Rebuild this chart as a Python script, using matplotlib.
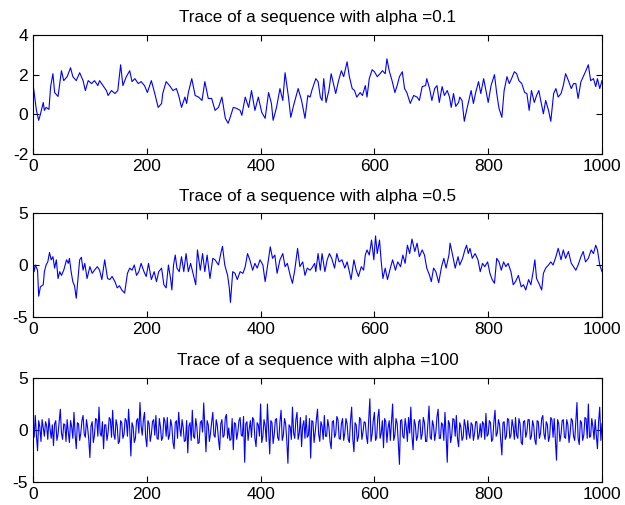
import matplotlib
matplotlib.use("Agg")
import matplotlib.pyplot as plt

plt.rcParams['font.family'] = ['Liberation Sans', 'DejaVu Sans']
plt.rcParams['axes.unicode_minus'] = False

titles = ['Trace of a sequence with alpha =0.1',
          'Trace of a sequence with alpha =0.5',
          'Trace of a sequence with alpha =100']

# alpha = 0.1
t1_x = [0, 3, 6, 10, 13, 18, 20, 23, 28, 31, 35, 38, 44, 50, 54, 60, 66, 70, 76, 82,
        88, 92, 97, 103, 108, 114, 117, 123, 129, 132, 138, 144, 149, 154, 158, 164, 170, 174, 179, 185,
        190, 196, 201, 208, 214, 220, 226, 228, 234, 240, 246, 252, 256, 261, 267, 270, 273, 279, 285, 291,
        297, 302, 308, 314, 320, 326, 332, 338, 343, 346, 352, 358, 364, 367, 373, 379, 384, 390, 396, 402,
        408, 414, 419, 422, 428, 434, 439, 443, 449, 453, 458, 462, 466, 472, 478, 483, 487, 490, 493, 497,
        501, 505, 508, 511, 515, 520, 524, 528, 532, 537, 542, 546, 552, 556, 561, 565, 569, 575, 579, 584,
        587, 591, 596, 600, 605, 610, 614, 619, 622, 626, 631, 636, 640, 644, 649, 653, 657, 663, 669, 675,
        679, 684, 690, 692, 697, 701, 706, 710, 714, 719, 723, 728, 732, 735, 739, 743, 748, 750, 754, 758,
        762, 766, 770, 774, 778, 783, 787, 792, 796, 800, 805, 811, 815, 819, 824, 828, 833, 837, 841, 846,
        850, 854, 859, 864, 868, 872, 876, 881, 885, 889, 893, 897, 901, 906, 910, 915, 919, 923, 928, 932,
        936, 941, 946, 950, 954, 958, 963, 967, 971, 976, 980, 985, 989, 992, 996, 1000]
t1_y = [1.55, 0.87, 0.2, -0.3, 0.0, 0.6, 0.2, 0.35, 0.25, 1.4, 2.05, 1.1, 0.9, 2.2, 1.7, 1.9, 2.35, 1.9, 1.7, 2.1,
        1.7, 1.2, 1.7, 1.55, 1.7, 1.45, 1.7, 1.45, 1.2, 0.95, 1.2, 1.05, 1.2, 2.5, 1.45, 1.9, 2.2, 1.65, 1.8, 1.55,
        1.65, 1.45, 1.1, 1.7, 1.05, 0.35, 0.55, 1.05, 1.65, 1.45, 1.2, 1.3, 0.95, 0.35, 0.87, 0.55, 1.1, 1.8, 0.95, 0.87,
        0.7, 1.65, 0.8, 0.8, 0.2, 0.35, 0.87, -0.2, -0.45, -0.2, 0.35, 0.3, 0.2, -0.05, 0.87, 0.35, 1.2, 0.2, 0.87, 0.1,
        -0.2, 1.1, 0.55, -0.3, 0.35, 1.3, 0.7, 2.1, 0.87, -0.15, 0.45, 0.87, 1.3, 0.7, -0.2, 0.95, 0.87, 1.2, 1.45, 1.8,
        1.65, 0.87, 0.7, 1.8, 0.6, 1.2, 2.05, 1.55, 1.05, 1.7, 2.2, 1.9, 2.65, 1.9, 1.3, 1.2, 0.87, 1.1, 0.95, 1.45,
        0.87, 1.8, 2.25, 2.15, 1.9, 2.05, 2.2, 2.05, 2.8, 2.2, 1.7, 1.1, 1.45, 1.9, 2.15, 1.3, 1.1, 0.55, 0.95, 0.87,
        0.7, 1.4, 1.45, 1.8, 1.3, 0.7, 1.3, 1.45, 0.6, 1.4, 0.95, 1.2, 0.87, 0.35, 1.05, 0.4, 0.6, 0.87, 0.7, -0.35,
        0.2, 0.7, 1.2, 0.55, 1.1, 1.65, 1.05, 1.8, 1.2, 0.6, 1.45, 2.0, 1.05, 0.3, -0.15, 1.2, 1.9, 1.55, 1.8, 2.15,
        2.05, 1.7, 1.55, 1.1, 1.05, 0.2, 1.2, 0.6, 0.95, 1.2, 0.6, 0.03, 0.7, 0.2, -0.35, 1.05, 1.3, 0.87, 1.05, 1.45,
        2.05, 1.7, 1.3, 1.55, 1.55, 0.8, 1.65, 1.9, 2.15, 2.5, 1.7, 1.8, 1.4, 1.8, 1.3, 1.7]

# alpha = 0.5
t2_x = [0, 2, 4, 8, 10, 13, 18, 20, 23, 26, 29, 32, 35, 38, 41, 44, 47, 50, 54, 59,
        62, 64, 67, 70, 73, 76, 79, 82, 85, 88, 91, 95, 100, 104, 108, 113, 117, 121, 126, 131,
        135, 139, 144, 148, 152, 156, 161, 166, 170, 174, 178, 182, 186, 190, 195, 199, 203, 208, 213, 217,
        221, 226, 230, 234, 238, 242, 244, 247, 250, 253, 257, 261, 265, 269, 273, 277, 282, 286, 289, 294,
        298, 302, 306, 311, 316, 320, 326, 330, 333, 337, 342, 345, 347, 351, 355, 359, 364, 369, 373, 377,
        381, 386, 390, 394, 399, 404, 408, 412, 417, 421, 425, 429, 434, 439, 443, 447, 452, 456, 460, 465,
        469, 474, 478, 482, 487, 490, 495, 497, 501, 505, 508, 513, 517, 521, 525, 530, 534, 538, 543, 548,
        552, 556, 559, 564, 568, 572, 577, 581, 584, 587, 591, 595, 599, 602, 605, 609, 612, 615, 619, 623,
        628, 632, 637, 641, 646, 650, 654, 658, 662, 666, 671, 675, 679, 684, 688, 692, 697, 700, 704, 708,
        713, 718, 722, 726, 731, 733, 738, 742, 747, 750, 755, 759, 762, 765, 768, 772, 777, 782, 786, 790,
        794, 799, 803, 807, 811, 815, 819, 823, 827, 831, 835, 840, 844, 848, 853, 858, 862, 866, 871, 875,
        879, 882, 885, 889, 894, 897, 901, 906, 910, 914, 919, 923, 928, 932, 936, 941, 946, 950, 954, 958,
        963, 967, 971, 976, 981, 985, 989, 992, 996, 1000]
t2_y = [0.16, -0.64, 0.0, -0.5, -3.0, -2.1, -1.9, -0.64, 0.0, 0.3, 1.2, 0.5, 0.8, -0.3, 0.5, -1.3, -0.64, -1.0, -0.5, 0.5,
        0.16, 0.64, -0.64, -1.6, -2.0, -3.2, -1.4, 0.5, 0.74, -0.5, 0.16, -1.3, -0.16, -0.8, -0.5, -0.16, -0.5, -1.4, 0.5, -1.3,
        -1.4, -1.1, -1.6, -2.2, -2.0, -2.4, -2.7, -0.8, -0.3, -0.5, 0.0, -1.0, -0.64, 0.16, -0.64, -1.1, 0.16, -1.4, -0.64, -1.6,
        -0.64, -0.3, -1.9, -2.2, 0.0, -1.4, -2.4, 0.0, 0.96, -0.3, -0.64, 0.8, -0.64, 1.1, -0.64, 0.16, -1.0, -1.9, 1.45, -0.5,
        1.1, -0.64, 0.96, -1.3, 0.64, 0.5, 0.0, 1.1, 1.8, 0.0, -1.0, -2.2, -3.6, -0.64, -0.8, -1.4, -0.64, -0.8, -0.16, 1.1,
        0.5, -0.5, 0.16, -0.3, 0.5, 0.0, -1.6, -0.16, 1.75, 0.64, 0.96, -0.8, 0.5, 1.1, -0.16, 0.16, -1.0, -1.76, -0.5, 1.6,
        -0.16, 0.3, -1.0, -0.3, -0.5, -0.3, 0.16, -0.64, 1.1, -0.5, 1.1, -0.64, 0.5, 1.1, 0.64, -0.3, 1.1, 0.3, 0.5, -0.3,
        0.3, -0.64, -1.4, 0.5, -0.5, -1.1, -0.16, -0.5, 0.96, 1.45, 0.96, 2.4, 0.5, 2.8, 1.1, 2.4, 0.3, -1.3, -0.3, -1.4,
        -0.3, 0.5, -0.5, 0.3, -0.16, 0.96, 0.16, 1.9, 1.1, 2.5, 1.3, 2.1, 0.8, 1.45, 0.96, -0.3, -1.0, -1.6, -0.3, -0.64,
        -1.7, -0.16, 0.64, -0.3, 0.96, 2.1, 0.8, -0.3, 0.8, 0.0, 0.64, 1.45, 1.9, 1.1, 1.6, 0.64, 1.1, 0.5, -0.64, 0.16,
        -0.16, 0.3, -0.8, -1.4, -1.76, 0.64, 0.3, -0.5, 0.3, -0.16, 0.16, -0.64, -1.9, -1.6, -1.0, -2.1, -1.9, -2.4, -1.4, -1.9,
        -0.64, 0.5, -1.3, -1.76, -2.4, -0.8, -0.3, 0.0, 0.3, 0.0, 0.8, 1.6, 0.5, 1.45, 0.64, 1.3, 0.16, -0.16, -0.5, 0.0,
        0.8, 1.3, 0.3, 0.64, 1.45, 1.1, 1.9, 1.45, 0.0, -0.64]

# alpha = 100: values at x = 0, 4, 8, ... and the ones in between at x = 2, 6, 10, ...
t3_even = [0.2, 1.4, -2.0, 0.3, 1.0, -0.6, 0.4, 1.1, -0.8, -1.5,
           0.9, -0.4, 2.0, -0.9, 0.5, 1.0, -1.2, 0.3, 1.7, -1.8,
           0.6, -0.3, 1.4, -0.7, 0.2, -2.65, 0.8, -0.5, 1.0, 2.2,
           -0.6, -1.8, 0.5, -0.2, 1.0, 1.9, -0.9, 0.4, -1.1, 0.7,
           -0.4, 0.9, 2.0, -2.5, 0.3, -0.8, 1.1, 2.65, -0.5, 1.7,
           -1.6, 0.6, -0.4, 1.0, 1.4, -0.9, 0.3, -0.7, 0.8, 1.2,
           -0.5, 0.4, -1.8, 0.9, 1.7, -0.6, 0.2, -1.0, -2.2, 0.7,
           1.9, -0.8, 0.3, -1.2, 0.9, 2.6, -2.1, 0.5, -0.3, 1.7,
           -0.7, 0.4, -1.9, 1.0, -0.5, 1.5, 0.2, -0.9, -1.9, 0.6,
           -0.2, 1.2, -0.6, -3.1, 0.8, 0.1, -0.7, 1.0, -1.6, 0.5,
           2.5, -0.6, 0.4, 2.5, -2.3, 0.7, -0.4, 1.1, -1.0, 1.9,
           -0.5, 0.6, -3.2, 0.3, 2.2, -0.8, 1.7, -0.3, -1.6, 0.9,
           1.4, -0.5, -2.7, 0.8, -0.2, 2.0, -1.1, 0.4, 1.4, -0.6,
           0.3, -1.8, 0.9, -0.4, 1.0, -0.9, 1.1, -0.3, 0.6, -1.2,
           2.2, -2.1, 0.5, -0.6, 1.0, -0.2, 0.7, -1.3, 3.0, -0.4,
           1.7, -0.7, 2.0, -0.3, -1.7, 0.8, 0.2, -1.0, 2.5, -0.5,
           0.6, -3.3, 1.0, -0.8, 0.3, 1.2, 2.2, -1.9, 0.5, -0.6,
           1.0, -0.4, 0.7, -1.1, 2.3, -0.9, 0.4, -0.2, 2.0, -0.8,
           0.5, 1.7, -3.1, 0.6, -0.5, 1.0, 1.4, -1.6, 0.3, -0.7,
           0.4, 0.9, -0.8, 0.5, -0.3, 0.8, -0.5, -0.7, 0.6, 1.6,
           -0.4, 0.7, -0.9, 1.9, -0.3, 0.5, -2.4, 0.8, -0.6, 1.0,
           -0.5, 0.3, 1.2, -0.8, 0.6, -1.4, 0.9, -0.2, 1.0, -0.6,
           0.4, -1.4, 0.8, -0.3, 1.4, -0.9, 0.5, -0.6, 1.0, 1.1,
           -2.9, 0.6, -0.4, 1.0, -0.8, 0.5, -0.3, 0.9, -1.0, 2.65,
           -1.4, 0.7, -0.5, 1.1, 2.5, -0.6, 0.3, 1.0, -1.8, 2.2,
           0.6]
t3_odd = [-0.7, -0.5, 0.9, -1.1, 0.2, 0.8, -0.9, 0.1, 0.5, 0.6,
          -1.0, 0.8, -0.3, 0.6, -1.1, -0.2, 0.9, -0.8, -0.4, 0.7,
          -1.0, 0.9, -0.4, 1.0, -0.9, 0.4, -1.2, 1.1, -0.6, -0.3,
          0.8, 0.5, -1.0, 1.2, -0.7, -0.4, 1.0, -1.3, 0.9, -0.8,
          1.1, -0.6, 0.1, 0.7, -1.2, 0.9, -0.3, 0.4, 1.0, -0.7,
          0.9, -1.1, 0.8, -0.5, -0.8, 1.1, -1.0, 1.2, -0.6, -0.9,
          1.0, -1.2, 0.7, -0.8, 0.2, 1.0, -1.1, 0.9, 0.4, -1.0,
          -0.6, 1.1, -1.3, 0.7, -0.2, 0.3, 0.9, -1.1, 0.8, -0.5,
          1.0, -0.9, 0.6, -0.7, 1.2, -0.8, -1.0, 1.1, 0.7, -0.9,
          0.9, -0.5, 1.3, 0.6, -1.0, 0.9, 1.2, -0.8, 0.7, -0.6,
          -1.2, 1.0, -1.1, 0.2, 0.9, -1.3, 1.0, -0.7, 0.8, -1.0,
          1.1, -1.0, 0.5, -0.9, -0.3, 1.0, -0.9, 1.2, 0.4, -0.8,
          -0.7, 1.1, 0.9, -1.2, 1.0, -0.4, 0.8, -0.9, -0.6, 1.0,
          -1.1, 0.8, -0.7, 1.3, -0.8, 0.6, -1.0, 1.1, -0.9, 0.9,
          -0.8, 0.7, -1.1, 1.2, -0.9, 0.8, -0.6, 1.0, -1.1, 0.9,
          -1.0, 1.2, -0.8, 0.9, 1.1, -1.2, 0.9, 0.7, -1.0, 1.1,
          -1.2, 0.9, -0.6, 1.1, -1.1, -0.3, -0.6, 1.0, -1.0, 0.8,
          -0.9, 1.2, -1.1, 0.6, -0.7, 0.9, -1.0, 1.3, -0.8, 0.7,
          -1.0, -0.5, 0.9, -1.2, 1.1, -0.6, -0.8, 0.7, -1.0, 1.0,
          -0.9, -0.3, 0.7, -1.0, 0.8, -0.9, 0.6, 0.8, -0.9, -0.6,
          0.9, -1.1, 0.8, -0.6, 1.0, -1.0, 0.7, -0.9, 1.1, -0.8,
          1.0, -0.9, -0.5, 1.1, -1.2, 0.8, -0.7, 1.0, -0.9, 0.9,
          -1.0, 0.9, -0.8, 1.1, -0.4, 0.8, -1.1, 1.2, -0.7, -0.9,
          1.0, -1.1, 0.9, -0.7, 1.0, -1.2, 1.1, -0.6, 0.8, -0.8,
          0.9, -1.0, 1.2, -0.8, -0.7, 1.1, -0.9, -0.5, 0.8, -1.0]
t3_x = list(range(0, 1001, 2))
t3_y = []
for a, b in zip(t3_even, t3_odd):
    t3_y.append(a)
    t3_y.append(b)
t3_y.append(t3_even[-1])

xs = [t1_x, t2_x, t3_x]
ys = [t1_y, t2_y, t3_y]
ylims = [(-2, 4), (-5, 5), (-5, 5)]
yticks = [[-2, 0, 2, 4], [-5, 0, 5], [-5, 0, 5]]

# axes boxes in figure fractions [left, bottom, width, height]
boxes = [[0.0528, 0.695, 0.9104, 0.2357],
         [0.0528, 0.3723, 0.9104, 0.2059],
         [0.0528, 0.0455, 0.9104, 0.206]]

fig = plt.figure(figsize=(6.25, 5.05), dpi=100)
for i in range(3):
    ax = fig.add_axes(boxes[i])
    ax.plot(xs[i], ys[i], color='#0000ff', linewidth=0.8)
    ax.set_xlim(0, 1000)
    ax.set_ylim(*ylims[i])
    ax.set_xticks([0, 200, 400, 600, 800, 1000])
    ax.set_yticks(yticks[i])
    ax.tick_params(direction='in', top=True, right=True, length=4, labelsize=12.5, width=0.8)
    for s in ax.spines.values():
        s.set_linewidth(0.8)
    ax.set_title(titles[i], fontsize=12.3, pad=9)

fig.savefig('out.png', dpi=100)
